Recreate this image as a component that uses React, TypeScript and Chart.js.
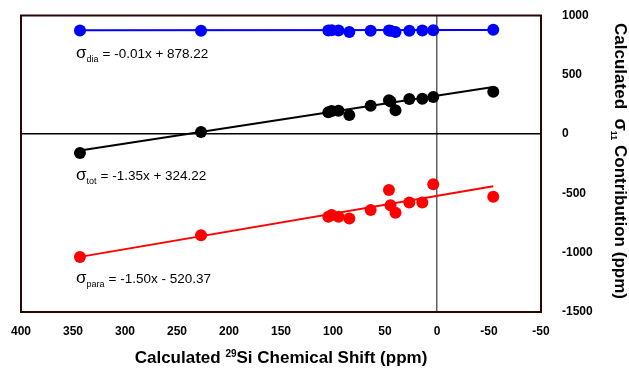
import React, { useEffect, useRef } from "react";
import { Chart, registerables } from "chart.js";

Chart.register(...registerables);

// ---- data ----
const shifts = [343.3, 226.9, 104.5, 101.3, 94.7, 84.3, 63.8, 46.2, 44.7, 39.9, 26.6, 14.1, 3.6, -54.1];
const diaValues = [874, 872, 874, 875, 873, 860, 872, 874, 872, 860, 872, 874, 875, 880];
const totValues = [-160, 17, 185, 194, 197, 160, 239, 285, 275, 202, 295, 298, 312, 357];
const paraValues = [-1037, -852, -697, -683, -697, -711, -641, -472, -599, -663, -576, -576, -422, -528];

const fitSlopes = [-0.01, -1.35, -1.5];
const fitIntercepts = [878.22, 324.22, -520.37];
const fitSubscripts = ["dia", "tot", "para"];
const fitRest = ["= -0.01x + 878.22", "= -1.35x + 324.22", "= -1.50x - 520.37"];

const xTickValues = [400, 350, 300, 250, 200, 150, 100, 50, 0, -50, -100];
const xTickLabels = ["400", "350", "300", "250", "200", "150", "100", "50", "0", "-50", "-50"];
const yTickValues = [1000, 500, 0, -500, -1000, -1500];
const yTickLabels = ["1000", "500", "0", "-500", "-1000", "-1500"];

const FONT = "'Liberation Sans', Arial, sans-serif";
const COLORS = ["rgb(0,0,255)", "rgb(0,0,0)", "rgb(255,0,0)"];

const decorPlugin = {
  id: "decor",
  afterDatasetsDraw(chart: any) {
    const ctx = chart.ctx as CanvasRenderingContext2D;
    const a = chart.chartArea;
    ctx.save();
    ctx.fillStyle = "#000";
    ctx.textBaseline = "alphabetic";
    ctx.textAlign = "left";
    const baseOffsets = [42, 164, 267];
    for (let i = 0; i < 3; i++) {
      let x = a.left + 55;
      const y = a.top + baseOffsets[i];
      ctx.font = `17px ${FONT}`;
      ctx.fillText("σ", x, y);
      x += ctx.measureText("σ").width;
      ctx.font = `9px ${FONT}`;
      ctx.fillText(fitSubscripts[i], x, y + 4);
      x += ctx.measureText(fitSubscripts[i]).width + 4;
      ctx.font = `13.5px ${FONT}`;
      ctx.fillText(fitRest[i], x, y);
    }
    ctx.restore();
  },
  afterDraw(chart: any) {
    const ctx = chart.ctx as CanvasRenderingContext2D;
    const a = chart.chartArea;
    ctx.save();
    // frame
    ctx.strokeStyle = "#2a0606";
    ctx.lineWidth = 2;
    ctx.strokeRect(a.left, a.top, a.right - a.left, a.bottom - a.top);

    // x title
    ctx.fillStyle = "#000";
    ctx.textBaseline = "alphabetic";
    const big = `bold 17px ${FONT}`;
    const sup = `bold 10px ${FONT}`;
    const p1 = "Calculated ";
    const p2 = "29";
    const p3 = "Si Chemical Shift (ppm)";
    ctx.font = big;
    const w1 = ctx.measureText(p1).width;
    const w3 = ctx.measureText(p3).width;
    ctx.font = sup;
    const w2 = ctx.measureText(p2).width;
    const total = w1 + w2 + w3;
    let x = 281 - total / 2;
    const by = 363;
    ctx.font = big;
    ctx.fillText(p1, x, by);
    x += w1;
    ctx.font = sup;
    ctx.fillText(p2, x, by - 6);
    x += w2;
    ctx.font = big;
    ctx.fillText(p3, x, by);

    // y title (right, rotated clockwise)
    ctx.translate(615, 0);
    ctx.rotate(Math.PI / 2);
    const q1 = "Calculated  ";
    const q2 = "σ";
    const q3 = "11";
    const q4 = " Contribution (ppm)";
    ctx.font = big;
    const v1 = ctx.measureText(q1).width;
    const v4 = ctx.measureText(q4).width;
    ctx.font = `bold 18px ${FONT}`;
    const v2 = ctx.measureText(q2).width;
    ctx.font = `bold 9px ${FONT}`;
    const v3 = ctx.measureText(q3).width;
    let t = 161 - (v1 + v2 + v3 + v4) / 2;
    ctx.font = big;
    ctx.fillText(q1, t, 0);
    t += v1;
    ctx.font = `bold 18px ${FONT}`;
    ctx.fillText(q2, t, 0);
    t += v2;
    ctx.font = `bold 9px ${FONT}`;
    ctx.fillText(q3, t, 4);
    t += v3;
    ctx.font = big;
    ctx.fillText(q4, t, 0);
    ctx.restore();
  },
};

export default function App() {
  const ref = useRef<HTMLCanvasElement>(null);
  useEffect(() => {
    if (!ref.current) return;
    const series = [diaValues, totValues, paraValues];
    const xMax = Math.max(...shifts);
    const xMin = Math.min(...shifts);
    const pointSets = series.map((vals, i) => ({
      type: "scatter" as const,
      data: shifts.map((s, j) => ({ x: s, y: vals[j] })),
      backgroundColor: COLORS[i],
      borderColor: COLORS[i],
      pointRadius: 6,
      pointHoverRadius: 6,
      borderWidth: 0,
      order: 1,
    }));
    const lineSets = fitSlopes.map((m, i) => ({
      type: "line" as const,
      data: [
        { x: xMax, y: m * xMax + fitIntercepts[i] },
        { x: xMin, y: m * xMin + fitIntercepts[i] },
      ],
      borderColor: COLORS[i],
      borderWidth: 2,
      pointRadius: 0,
      fill: false,
      order: 2,
    }));
    const chart = new Chart(ref.current, {
      type: "scatter",
      data: { datasets: [...pointSets, ...lineSets] as any },
      options: {
        animation: false,
        responsive: true,
        maintainAspectRatio: false,
        layout: { padding: { left: 21, top: 15.5, right: 0, bottom: 0 } },
        plugins: { legend: { display: false }, tooltip: { enabled: false } },
        scales: {
          x: {
            type: "linear",
            reverse: true,
            min: -100,
            max: 400,
            afterBuildTicks: (s: any) => {
              s.ticks = xTickValues.map((v) => ({ value: v }));
            },
            afterFit: (s: any) => {
              s.height = 56;
              s.paddingLeft = 0;
              s.paddingRight = 0;
            },
            ticks: {
              autoSkip: false,
              maxRotation: 0,
              padding: 12,
              color: "#000",
              font: { family: FONT, size: 12, weight: "bold" },
              callback: (v: any) => {
                const k = xTickValues.indexOf(Number(v));
                return k >= 0 ? xTickLabels[k] : "";
              },
            },
            grid: {
              drawTicks: false,
              color: (c: any) => (c.tick && c.tick.value === 0 ? "#606060" : "rgba(0,0,0,0)"),
              lineWidth: 1.5,
            },
            border: { display: false },
          },
          y: {
            type: "linear",
            position: "right",
            min: -1500,
            max: 1000,
            afterBuildTicks: (s: any) => {
              s.ticks = yTickValues.map((v) => ({ value: v }));
            },
            afterFit: (s: any) => {
              s.width = 88;
              s.paddingTop = 0;
              s.paddingBottom = 0;
            },
            ticks: {
              padding: 21,
              color: "#000",
              font: { family: FONT, size: 12, weight: "bold" },
              callback: (v: any) => {
                const k = yTickValues.indexOf(Number(v));
                return k >= 0 ? yTickLabels[k] : "";
              },
            },
            grid: {
              drawTicks: false,
              color: (c: any) => (c.tick && c.tick.value === 0 ? "#000" : "rgba(0,0,0,0)"),
              lineWidth: 1.5,
            },
            border: { display: false },
          },
        },
      },
      plugins: [decorPlugin],
    });
    return () => chart.destroy();
  }, []);
  return (
    <div style={{ position: "fixed", left: 0, top: 0, width: 629, height: 368, background: "#fff" }}>
      <canvas ref={ref} />
    </div>
  );
}
